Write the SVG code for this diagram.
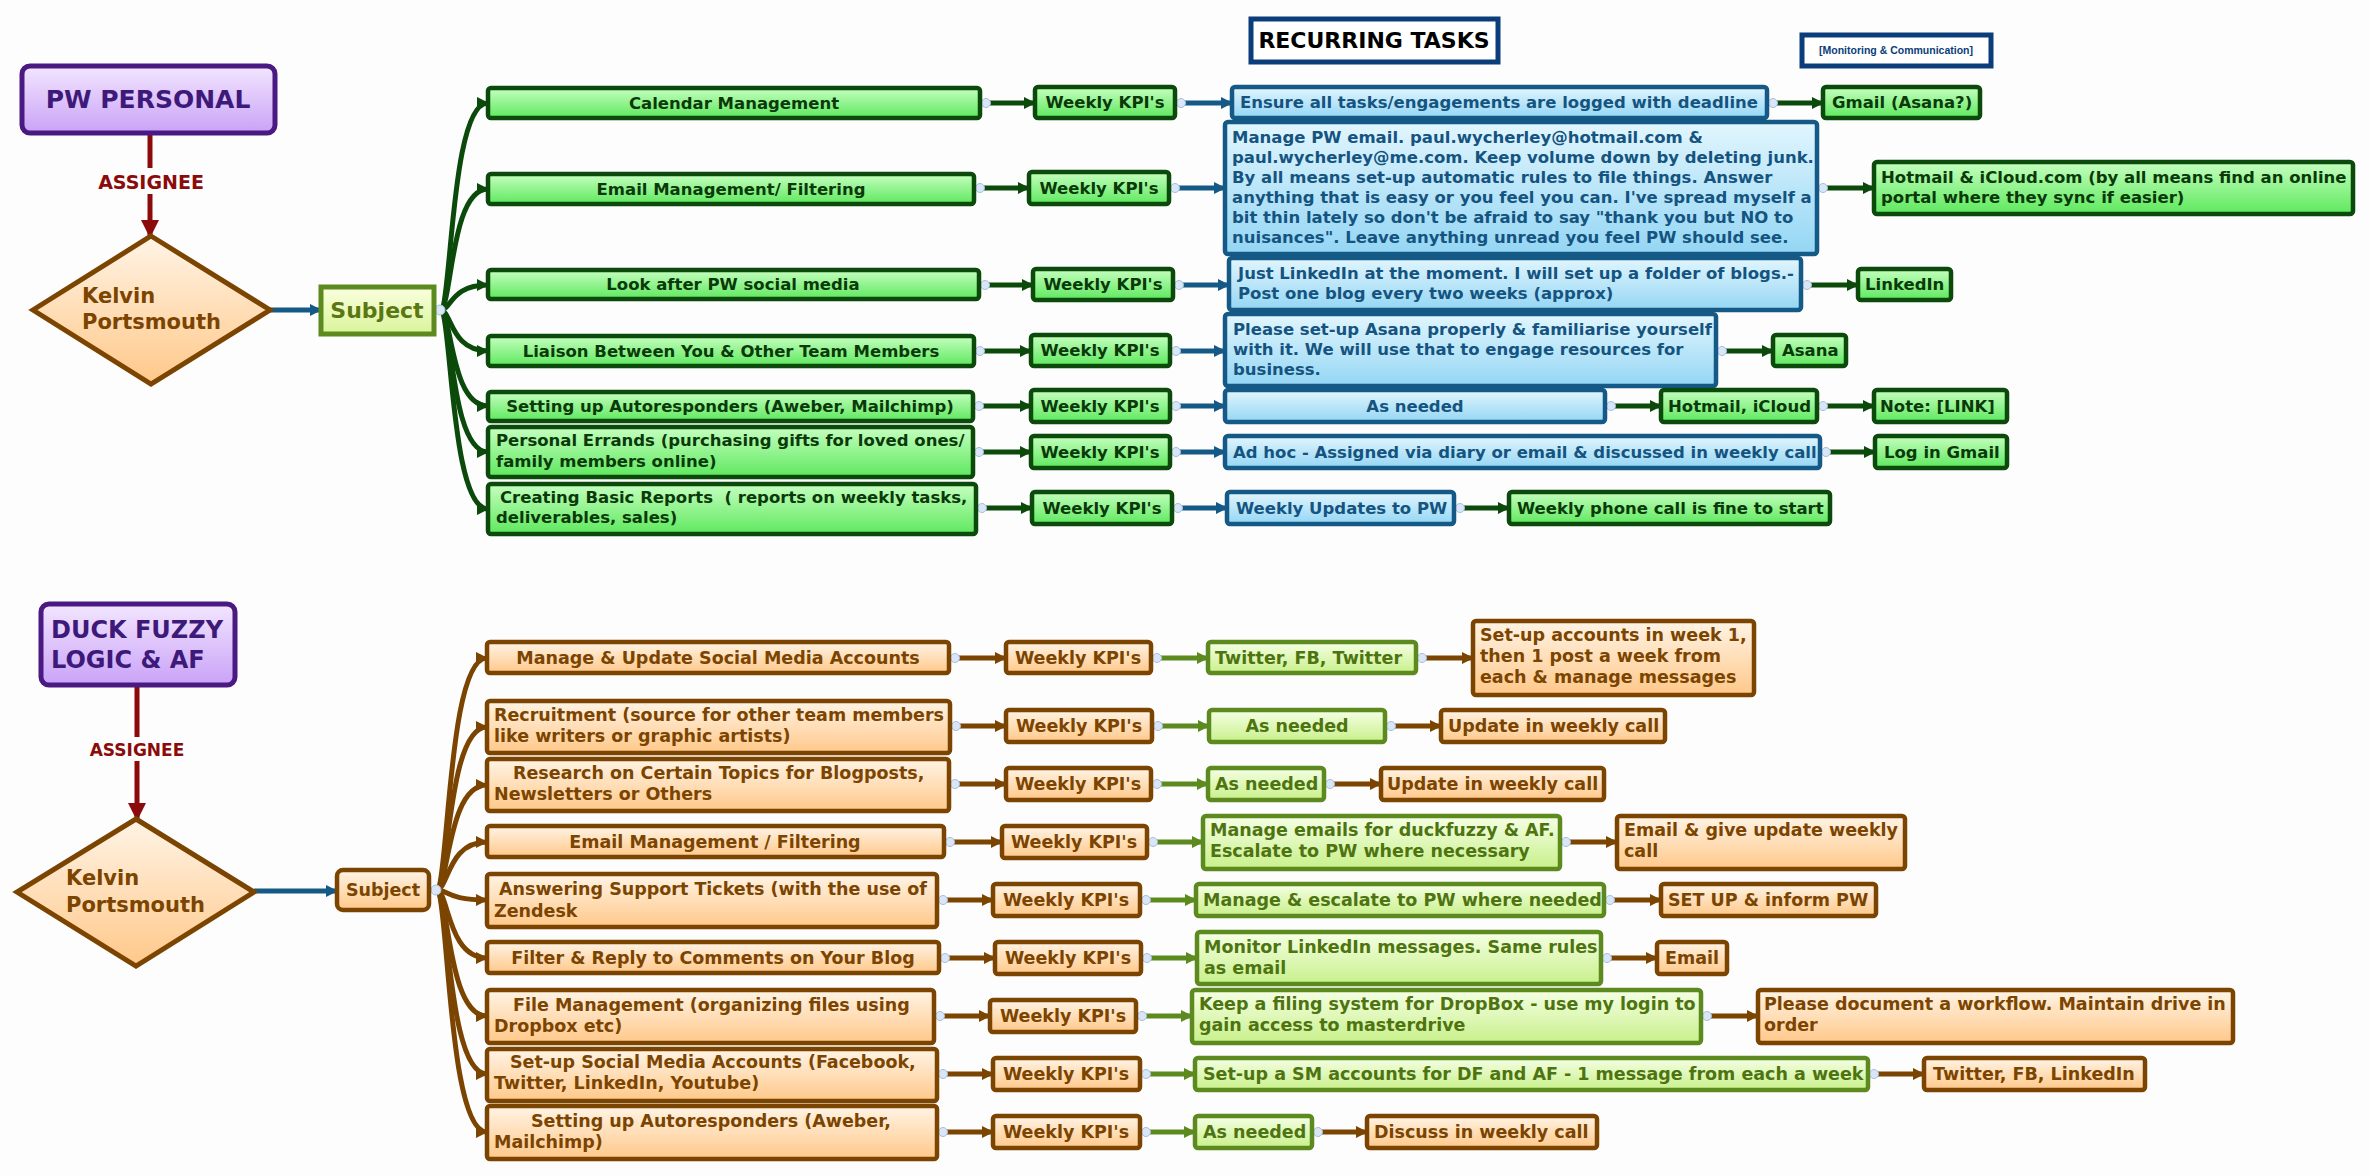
<svg xmlns="http://www.w3.org/2000/svg" width="2370" height="1176" viewBox="0 0 2370 1176">
<defs>
<linearGradient id="gG" x1="0" y1="0" x2="0" y2="1"><stop offset="0" stop-color="#c6ffc0"/><stop offset="1" stop-color="#5ee85e"/></linearGradient>
<linearGradient id="gB" x1="0" y1="0" x2="0" y2="1"><stop offset="0" stop-color="#e2f6fe"/><stop offset="1" stop-color="#94d6f4"/></linearGradient>
<linearGradient id="gP" x1="0" y1="0" x2="0" y2="1"><stop offset="0" stop-color="#fff4e6"/><stop offset="1" stop-color="#ffc889"/></linearGradient>
<linearGradient id="gL" x1="0" y1="0" x2="0" y2="1"><stop offset="0" stop-color="#f6ffe6"/><stop offset="1" stop-color="#c8f08a"/></linearGradient>
<linearGradient id="gV" x1="0" y1="0" x2="0" y2="1"><stop offset="0" stop-color="#f3e6ff"/><stop offset="1" stop-color="#c9a2f7"/></linearGradient>
<linearGradient id="gS" x1="0" y1="0" x2="0" y2="1"><stop offset="0" stop-color="#fbffe0"/><stop offset="1" stop-color="#d9f49a"/></linearGradient>
<marker id="mG" markerWidth="12" markerHeight="12" refX="11" refY="6" orient="auto" markerUnits="userSpaceOnUse"><path d="M0,0 L12,6 L0,12 z" fill="#0b4a0b"/></marker>
<marker id="mB" markerWidth="12" markerHeight="12" refX="11" refY="6" orient="auto" markerUnits="userSpaceOnUse"><path d="M0,0 L12,6 L0,12 z" fill="#155a86"/></marker>
<marker id="mP" markerWidth="12" markerHeight="12" refX="11" refY="6" orient="auto" markerUnits="userSpaceOnUse"><path d="M0,0 L12,6 L0,12 z" fill="#7b4400"/></marker>
<marker id="mL" markerWidth="12" markerHeight="12" refX="11" refY="6" orient="auto" markerUnits="userSpaceOnUse"><path d="M0,0 L12,6 L0,12 z" fill="#5c8a1e"/></marker>
<marker id="mR" markerWidth="18" markerHeight="18" refX="16" refY="9" orient="auto" markerUnits="userSpaceOnUse"><path d="M0,0 L18,9 L0,18 z" fill="#8b0a0a"/></marker>
</defs>
<style>
text{font-family:"DejaVu Sans",Verdana,sans-serif;font-weight:bold}
.t{font-size:16.5px}
.s{font-size:17.5px}
.m{text-anchor:middle}
.g{fill:url(#gG);stroke:#0b4a0b;stroke-width:4.5}
.b{fill:url(#gB);stroke:#155a86;stroke-width:4.5}
.p{fill:url(#gP);stroke:#7b4400;stroke-width:4.5}
.l{fill:url(#gL);stroke:#5c8a1e;stroke-width:4.5}
.v{fill:url(#gV);stroke:#4a1a82;stroke-width:5}
.tg{fill:#0a3a0a}
.tb{fill:#155480}
.tp{fill:#7b4400}
.tl{fill:#4d7410}
.tv{fill:#3d1a7a}
.cG{fill:none;stroke:#0b4a0b;stroke-width:5;marker-end:url(#mG)}
.cB{fill:none;stroke:#155a86;stroke-width:5;marker-end:url(#mB)}
.cP{fill:none;stroke:#7b4400;stroke-width:5;marker-end:url(#mP)}
.cL{fill:none;stroke:#5c8a1e;stroke-width:5;marker-end:url(#mL)}
.h{fill:#d8e6f8;stroke:#a9bedc;stroke-width:1}
</style>
<rect x="0" y="0" width="2370" height="1176" fill="#fdfdfd"/>

<g id="title">
<rect x="1251" y="19" width="247" height="43" fill="#ffffff" stroke="#0a3d7a" stroke-width="5"/>
<text x="1374" y="48" font-size="22" text-anchor="middle" fill="#000">RECURRING TASKS</text>
</g>
<g id="legend">
<rect x="1802" y="35" width="189" height="31" fill="#ffffff" stroke="#0a3d7a" stroke-width="5"/>
<text x="1896" y="54" font-size="10.5" text-anchor="middle" fill="#0a3d7a" style="font-family:'Liberation Sans',Arial,sans-serif">[Monitoring &amp; Communication]</text>
</g>

<g id="connectors">
<!-- top -->
<line x1="150" y1="133" x2="150" y2="236" stroke="#8b0a0a" stroke-width="5" marker-end="url(#mR)"/>
<path class="cB" d="M270,310 L321,310"/>
<path class="cG" d="M440,310 C452,310 450,103 488,103"/>
<path class="cG" d="M440,310 C452,310 450,189 488,189"/>
<path class="cG" d="M440,310 C452,310 450,285 488,285"/>
<path class="cG" d="M440,310 C452,310 450,351 488,351"/>
<path class="cG" d="M440,310 C452,310 450,406 488,406"/>
<path class="cG" d="M440,310 C452,310 450,452 488,452"/>
<path class="cG" d="M440,310 C452,310 450,509 488,509"/>
<circle class="h" cx="440" cy="310" r="5"/>
<path class="cG" d="M988,103 L1035,103"/><path class="cB" d="M1183,103 L1232,103"/><path class="cG" d="M1775,103 L1823,103"/>
<path class="cG" d="M982,188 L1029,188"/><path class="cB" d="M1177,188 L1225,188"/><path class="cG" d="M1825,188 L1874,188"/>
<path class="cG" d="M987,285 L1033,285"/><path class="cB" d="M1181,285 L1229,285"/><path class="cG" d="M1809,285 L1858,285"/>
<path class="cG" d="M982,351 L1031,351"/><path class="cB" d="M1178,351 L1225,351"/><path class="cG" d="M1724,351 L1773,351"/>
<path class="cG" d="M981,406 L1031,406"/><path class="cB" d="M1178,406 L1225,406"/><path class="cG" d="M1613,406 L1661,406"/><path class="cG" d="M1825,406 L1874,406"/>
<path class="cG" d="M981,452 L1031,452"/><path class="cB" d="M1178,452 L1225,452"/><path class="cG" d="M1828,452 L1875,452"/>
<path class="cG" d="M984,508 L1032,508"/><path class="cB" d="M1180,508 L1227,508"/><path class="cG" d="M1462,508 L1509,508"/>
<circle class="h" cx="986" cy="103" r="4.5"/><circle class="h" cx="1181" cy="103" r="4.5"/><circle class="h" cx="1773" cy="103" r="4.5"/>
<circle class="h" cx="980" cy="188" r="4.5"/><circle class="h" cx="1175" cy="188" r="4.5"/><circle class="h" cx="1823" cy="188" r="4.5"/>
<circle class="h" cx="985" cy="285" r="4.5"/><circle class="h" cx="1179" cy="285" r="4.5"/><circle class="h" cx="1807" cy="285" r="4.5"/>
<circle class="h" cx="980" cy="351" r="4.5"/><circle class="h" cx="1176" cy="351" r="4.5"/><circle class="h" cx="1722" cy="351" r="4.5"/>
<circle class="h" cx="979" cy="406" r="4.5"/><circle class="h" cx="1176" cy="406" r="4.5"/><circle class="h" cx="1611" cy="406" r="4.5"/><circle class="h" cx="1823" cy="406" r="4.5"/>
<circle class="h" cx="979" cy="452" r="4.5"/><circle class="h" cx="1176" cy="452" r="4.5"/><circle class="h" cx="1826" cy="452" r="4.5"/>
<circle class="h" cx="982" cy="508" r="4.5"/><circle class="h" cx="1178" cy="508" r="4.5"/><circle class="h" cx="1460" cy="508" r="4.5"/>
<!-- bottom -->
<line x1="137" y1="685" x2="137" y2="819" stroke="#8b0a0a" stroke-width="5" marker-end="url(#mR)"/>
<path class="cB" d="M254,891 L337,891"/>
<path class="cP" d="M436,890 C449,890 447,658 487,658"/>
<path class="cP" d="M436,890 C449,890 447,727 487,727"/>
<path class="cP" d="M436,890 C449,890 447,785 487,785"/>
<path class="cP" d="M436,890 C449,890 447,842 487,842"/>
<path class="cP" d="M436,890 C449,890 447,900 487,900"/>
<path class="cP" d="M436,890 C449,890 447,958 487,958"/>
<path class="cP" d="M436,890 C449,890 447,1016 487,1016"/>
<path class="cP" d="M436,890 C449,890 447,1074 487,1074"/>
<path class="cP" d="M436,890 C449,890 447,1132 487,1132"/>
<circle class="h" cx="436" cy="890" r="5"/>
<path class="cP" d="M957,658 L1006,658"/><path class="cL" d="M1159,658 L1208,658"/><path class="cP" d="M1424,658 L1473,658"/>
<path class="cP" d="M958,726 L1006,726"/><path class="cL" d="M1160,726 L1209,726"/><path class="cP" d="M1393,726 L1441,726"/>
<path class="cP" d="M957,784 L1006,784"/><path class="cL" d="M1159,784 L1208,784"/><path class="cP" d="M1332,784 L1381,784"/>
<path class="cP" d="M952,842 L1002,842"/><path class="cL" d="M1155,842 L1203,842"/><path class="cP" d="M1568,842 L1617,842"/>
<path class="cP" d="M945,900 L993,900"/><path class="cL" d="M1148,900 L1196,900"/><path class="cP" d="M1612,900 L1661,900"/>
<path class="cP" d="M947,958 L995,958"/><path class="cL" d="M1149,958 L1197,958"/><path class="cP" d="M1609,958 L1657,958"/>
<path class="cP" d="M942,1016 L990,1016"/><path class="cL" d="M1144,1016 L1192,1016"/><path class="cP" d="M1709,1016 L1758,1016"/>
<path class="cP" d="M945,1074 L993,1074"/><path class="cL" d="M1148,1074 L1195,1074"/><path class="cP" d="M1876,1074 L1924,1074"/>
<path class="cP" d="M945,1132 L993,1132"/><path class="cL" d="M1148,1132 L1195,1132"/><path class="cP" d="M1320,1132 L1367,1132"/>
<circle class="h" cx="955" cy="658" r="4.5"/><circle class="h" cx="1157" cy="658" r="4.5"/><circle class="h" cx="1422" cy="658" r="4.5"/>
<circle class="h" cx="956" cy="726" r="4.5"/><circle class="h" cx="1158" cy="726" r="4.5"/><circle class="h" cx="1391" cy="726" r="4.5"/>
<circle class="h" cx="955" cy="784" r="4.5"/><circle class="h" cx="1157" cy="784" r="4.5"/><circle class="h" cx="1330" cy="784" r="4.5"/>
<circle class="h" cx="950" cy="842" r="4.5"/><circle class="h" cx="1153" cy="842" r="4.5"/><circle class="h" cx="1566" cy="842" r="4.5"/>
<circle class="h" cx="943" cy="900" r="4.5"/><circle class="h" cx="1146" cy="900" r="4.5"/><circle class="h" cx="1610" cy="900" r="4.5"/>
<circle class="h" cx="945" cy="958" r="4.5"/><circle class="h" cx="1147" cy="958" r="4.5"/><circle class="h" cx="1607" cy="958" r="4.5"/>
<circle class="h" cx="940" cy="1016" r="4.5"/><circle class="h" cx="1142" cy="1016" r="4.5"/><circle class="h" cx="1707" cy="1016" r="4.5"/>
<circle class="h" cx="943" cy="1074" r="4.5"/><circle class="h" cx="1146" cy="1074" r="4.5"/><circle class="h" cx="1874" cy="1074" r="4.5"/>
<circle class="h" cx="943" cy="1132" r="4.5"/><circle class="h" cx="1146" cy="1132" r="4.5"/><circle class="h" cx="1318" cy="1132" r="4.5"/>
</g>

<!-- TOP SECTION -->
<g id="pw-personal"><rect class="v" x="22" y="66" width="253" height="67" rx="8"/><text x="148" y="108" font-size="25" text-anchor="middle" class="tv">PW PERSONAL</text></g>
<g id="assignee-top"><rect x="94" y="168" width="114" height="26" fill="#fdfdfd"/><text x="151" y="189" font-size="19" text-anchor="middle" fill="#8b0a0a">ASSIGNEE</text></g>
<g id="kelvin-top"><polygon points="151,236 270,310 151,384 33,310" fill="url(#gP)" stroke="#7b4400" stroke-width="5"/><text x="82" y="303" font-size="21" class="tp">Kelvin</text><text x="82" y="329" font-size="21" class="tp">Portsmouth</text></g>
<g id="subject-top"><rect x="321" y="287" width="113" height="47" fill="url(#gS)" stroke="#5c8a1e" stroke-width="5"/><text x="377" y="318" font-size="22" text-anchor="middle" fill="#5a7812">Subject</text></g>

<g id="t1"><rect class="g" x="488" y="88" width="492" height="30" rx="3"/><text class="t m tg" x="734" y="109">Calendar Management</text></g>
<g id="t2"><rect class="g" x="488" y="174" width="486" height="30" rx="3"/><text class="t m tg" x="731" y="195">Email Management/ Filtering</text></g>
<g id="t3"><rect class="g" x="488" y="270" width="491" height="29" rx="3"/><text class="t m tg" x="733" y="290">Look after PW social media</text></g>
<g id="t4"><rect class="g" x="488" y="336" width="486" height="30" rx="3"/><text class="t m tg" x="731" y="357">Liaison Between You &amp; Other Team Members</text></g>
<g id="t5"><rect class="g" x="488" y="392" width="485" height="29" rx="3"/><text class="t m tg" x="730" y="412">Setting up Autoresponders (Aweber, Mailchimp)</text></g>
<g id="t6"><rect class="g" x="488" y="427" width="485" height="50" rx="3"/><text class="t tg" x="496" y="446">Personal Errands (purchasing gifts for loved ones/</text><text class="t tg" x="496" y="467">family members online)</text></g>
<g id="t7"><rect class="g" x="488" y="484" width="488" height="50" rx="3"/><text class="t tg" x="500" y="503" xml:space="preserve">Creating Basic Reports  ( reports on weekly tasks,</text><text class="t tg" x="496" y="523">deliverables, sales)</text></g>

<g id="k1"><rect class="g" x="1035" y="87" width="140" height="31" rx="3"/><text class="t m tg" x="1105" y="108">Weekly KPI's</text></g>
<g id="k2"><rect class="g" x="1029" y="172" width="140" height="32" rx="3"/><text class="t m tg" x="1099" y="194">Weekly KPI's</text></g>
<g id="k3"><rect class="g" x="1033" y="269" width="140" height="31" rx="3"/><text class="t m tg" x="1103" y="290">Weekly KPI's</text></g>
<g id="k4"><rect class="g" x="1031" y="335" width="139" height="31" rx="3"/><text class="t m tg" x="1100" y="356">Weekly KPI's</text></g>
<g id="k5"><rect class="g" x="1031" y="390" width="139" height="32" rx="3"/><text class="t m tg" x="1100" y="412">Weekly KPI's</text></g>
<g id="k6"><rect class="g" x="1031" y="436" width="139" height="32" rx="3"/><text class="t m tg" x="1100" y="458">Weekly KPI's</text></g>
<g id="k7"><rect class="g" x="1032" y="492" width="140" height="32" rx="3"/><text class="t m tg" x="1102" y="514">Weekly KPI's</text></g>

<g id="b1"><rect class="b" x="1232" y="87" width="535" height="31" rx="3"/><text class="t tb" x="1240" y="108">Ensure all tasks/engagements are logged with deadline</text></g>
<g id="b2"><rect class="b" x="1225" y="122" width="592" height="132" rx="3"/><text class="t tb" x="1232" y="143">Manage PW email. paul.wycherley@hotmail.com &amp;<tspan x="1232" dy="20">paul.wycherley@me.com. Keep volume down by deleting junk.</tspan><tspan x="1232" dy="20">By all means set-up automatic rules to file things. Answer</tspan><tspan x="1232" dy="20">anything that is easy or you feel you can. I've spread myself a</tspan><tspan x="1232" dy="20">bit thin lately so don't be afraid to say "thank you but NO to</tspan><tspan x="1232" dy="20">nuisances". Leave anything unread you feel PW should see.</tspan></text></g>
<g id="b3"><rect class="b" x="1229" y="258" width="572" height="52" rx="3"/><text class="t tb" x="1238" y="279">Just LinkedIn at the moment. I will set up a folder of blogs.-<tspan x="1238" dy="20">Post one blog every two weeks (approx)</tspan></text></g>
<g id="b4"><rect class="b" x="1225" y="314" width="491" height="72" rx="3"/><text class="t tb" x="1233" y="335">Please set-up Asana properly &amp; familiarise yourself<tspan x="1233" dy="20">with it. We will use that to engage resources for</tspan><tspan x="1233" dy="20">business.</tspan></text></g>
<g id="b5"><rect class="b" x="1225" y="390" width="380" height="32" rx="3"/><text class="t m tb" x="1415" y="412">As needed</text></g>
<g id="b6"><rect class="b" x="1225" y="436" width="595" height="32" rx="3"/><text class="t tb" x="1233" y="458">Ad hoc - Assigned via diary or email &amp; discussed in weekly call</text></g>
<g id="b7"><rect class="b" x="1227" y="492" width="227" height="32" rx="3"/><text class="t tb" x="1236" y="514">Weekly Updates to PW</text></g>

<g id="g1"><rect class="g" x="1823" y="87" width="157" height="31" rx="3"/><text class="t tg" x="1832" y="108">Gmail (Asana?)</text></g>
<g id="g2"><rect class="g" x="1874" y="162" width="479" height="52" rx="3"/><text class="t tg" x="1881" y="183">Hotmail &amp; iCloud.com (by all means find an online<tspan x="1881" dy="20">portal where they sync if easier)</tspan></text></g>
<g id="g3"><rect class="g" x="1858" y="269" width="93" height="31" rx="3"/><text class="t tg" x="1865" y="290">LinkedIn</text></g>
<g id="g4"><rect class="g" x="1773" y="335" width="73" height="31" rx="3"/><text class="t tg" x="1782" y="356">Asana</text></g>
<g id="g5a"><rect class="g" x="1661" y="390" width="156" height="32" rx="3"/><text class="t tg" x="1668" y="412">Hotmail, iCloud</text></g>
<g id="g5b"><rect class="g" x="1874" y="390" width="133" height="32" rx="3"/><text class="t tg" x="1880" y="412">Note: [LINK]</text></g>
<g id="g6"><rect class="g" x="1875" y="436" width="132" height="32" rx="3"/><text class="t tg" x="1884" y="458">Log in Gmail</text></g>
<g id="g7"><rect class="g" x="1509" y="492" width="321" height="32" rx="3"/><text class="t tg" x="1517" y="514">Weekly phone call is fine to start</text></g>

<!-- BOTTOM SECTION -->
<g id="duck-fuzzy"><rect class="v" x="41" y="604" width="194" height="81" rx="8"/><text x="51" y="638" font-size="24" class="tv">DUCK FUZZY</text><text x="51" y="668" font-size="24" class="tv">LOGIC &amp; AF</text></g>
<g id="assignee-bottom"><rect x="86" y="737" width="102" height="24" fill="#fdfdfd"/><text x="137" y="756" font-size="17" text-anchor="middle" fill="#8b0a0a">ASSIGNEE</text></g>
<g id="kelvin-bottom"><polygon points="136,819 254,892 136,966 17,892" fill="url(#gP)" stroke="#7b4400" stroke-width="5"/><text x="66" y="885" font-size="21" class="tp">Kelvin</text><text x="66" y="912" font-size="21" class="tp">Portsmouth</text></g>
<g id="subject-bottom"><rect class="p" x="337" y="870" width="92" height="40" rx="6"/><text x="383" y="896" font-size="17.5" text-anchor="middle" class="tp">Subject</text></g>

<g id="bt1"><rect class="p" x="487" y="642" width="462" height="31" rx="3"/><text class="s m tp" x="718" y="664">Manage &amp; Update Social Media Accounts</text></g>
<g id="bt2"><rect class="p" x="487" y="701" width="463" height="52" rx="3"/><text class="s tp" x="494" y="721">Recruitment (source for other team members</text><text class="s tp" x="494" y="742">like writers or graphic artists)</text></g>
<g id="bt3"><rect class="p" x="487" y="759" width="462" height="52" rx="3"/><text class="s tp" x="513" y="779">Research on Certain Topics for Blogposts,</text><text class="s tp" x="494" y="800">Newsletters or Others</text></g>
<g id="bt4"><rect class="p" x="487" y="826" width="457" height="31" rx="3"/><text class="s m tp" x="715" y="848">Email Management / Filtering</text></g>
<g id="bt5"><rect class="p" x="487" y="874" width="450" height="53" rx="3"/><text class="s tp" x="499" y="895">Answering Support Tickets (with the use of</text><text class="s tp" x="494" y="917">Zendesk</text></g>
<g id="bt6"><rect class="p" x="487" y="942" width="452" height="31" rx="3"/><text class="s m tp" x="713" y="964">Filter &amp; Reply to Comments on Your Blog</text></g>
<g id="bt7"><rect class="p" x="487" y="990" width="447" height="53" rx="3"/><text class="s tp" x="513" y="1011">File Management (organizing files using</text><text class="s tp" x="494" y="1032">Dropbox etc)</text></g>
<g id="bt8"><rect class="p" x="487" y="1049" width="450" height="52" rx="3"/><text class="s tp" x="510" y="1068">Set-up Social Media Accounts (Facebook,</text><text class="s tp" x="494" y="1089">Twitter, LinkedIn, Youtube)</text></g>
<g id="bt9"><rect class="p" x="487" y="1106" width="450" height="53" rx="3"/><text class="s tp" x="531" y="1127">Setting up Autoresponders (Aweber,</text><text class="s tp" x="494" y="1148">Mailchimp)</text></g>

<g id="bk1"><rect class="p" x="1006" y="642" width="145" height="31" rx="3"/><text class="s m tp" x="1078" y="664">Weekly KPI's</text></g>
<g id="bk2"><rect class="p" x="1006" y="710" width="146" height="32" rx="3"/><text class="s m tp" x="1079" y="732">Weekly KPI's</text></g>
<g id="bk3"><rect class="p" x="1006" y="768" width="145" height="32" rx="3"/><text class="s m tp" x="1078" y="790">Weekly KPI's</text></g>
<g id="bk4"><rect class="p" x="1002" y="826" width="145" height="32" rx="3"/><text class="s m tp" x="1074" y="848">Weekly KPI's</text></g>
<g id="bk5"><rect class="p" x="993" y="884" width="147" height="32" rx="3"/><text class="s m tp" x="1066" y="906">Weekly KPI's</text></g>
<g id="bk6"><rect class="p" x="995" y="942" width="146" height="32" rx="3"/><text class="s m tp" x="1068" y="964">Weekly KPI's</text></g>
<g id="bk7"><rect class="p" x="990" y="1000" width="146" height="32" rx="3"/><text class="s m tp" x="1063" y="1022">Weekly KPI's</text></g>
<g id="bk8"><rect class="p" x="993" y="1058" width="147" height="32" rx="3"/><text class="s m tp" x="1066" y="1080">Weekly KPI's</text></g>
<g id="bk9"><rect class="p" x="993" y="1116" width="147" height="32" rx="3"/><text class="s m tp" x="1066" y="1138">Weekly KPI's</text></g>

<g id="l1"><rect class="l" x="1208" y="642" width="208" height="31" rx="3"/><text class="s tl" x="1215" y="664">Twitter, FB, Twitter</text></g>
<g id="l2"><rect class="l" x="1209" y="710" width="176" height="32" rx="3"/><text class="s m tl" x="1297" y="732">As needed</text></g>
<g id="l3"><rect class="l" x="1208" y="768" width="116" height="32" rx="3"/><text class="s tl" x="1215" y="790">As needed</text></g>
<g id="l4"><rect class="l" x="1203" y="816" width="357" height="53" rx="3"/><text class="s tl" x="1210" y="836">Manage emails for duckfuzzy &amp; AF.</text><text class="s tl" x="1210" y="857">Escalate to PW where necessary</text></g>
<g id="l5"><rect class="l" x="1196" y="884" width="408" height="32" rx="3"/><text class="s tl" x="1203" y="906">Manage &amp; escalate to PW where needed</text></g>
<g id="l6"><rect class="l" x="1197" y="932" width="404" height="52" rx="3"/><text class="s tl" x="1204" y="953">Monitor LinkedIn messages. Same rules</text><text class="s tl" x="1204" y="974">as email</text></g>
<g id="l7"><rect class="l" x="1192" y="990" width="509" height="53" rx="3"/><text class="s tl" x="1199" y="1010">Keep a filing system for DropBox - use my login to</text><text class="s tl" x="1199" y="1031">gain access to masterdrive</text></g>
<g id="l8"><rect class="l" x="1195" y="1058" width="673" height="32" rx="3"/><text class="s tl" x="1203" y="1080">Set-up a SM accounts for DF and AF - 1 message from each a week</text></g>
<g id="l9"><rect class="l" x="1195" y="1116" width="117" height="32" rx="3"/><text class="s tl" x="1203" y="1138">As needed</text></g>

<g id="p1"><rect class="p" x="1473" y="621" width="281" height="74" rx="3"/><text class="s tp" x="1480" y="641">Set-up accounts in week 1,</text><text class="s tp" x="1480" y="662">then 1 post a week from</text><text class="s tp" x="1480" y="683">each &amp; manage messages</text></g>
<g id="p2"><rect class="p" x="1441" y="710" width="224" height="32" rx="3"/><text class="s tp" x="1448" y="732">Update in weekly call</text></g>
<g id="p3"><rect class="p" x="1381" y="768" width="223" height="32" rx="3"/><text class="s tp" x="1387" y="790">Update in weekly call</text></g>
<g id="p4"><rect class="p" x="1617" y="816" width="288" height="53" rx="3"/><text class="s tp" x="1624" y="836">Email &amp; give update weekly</text><text class="s tp" x="1624" y="857">call</text></g>
<g id="p5"><rect class="p" x="1661" y="884" width="215" height="32" rx="3"/><text class="s tp" x="1668" y="906">SET UP &amp; inform PW</text></g>
<g id="p6"><rect class="p" x="1657" y="942" width="70" height="32" rx="3"/><text class="s tp" x="1665" y="964">Email</text></g>
<g id="p7"><rect class="p" x="1758" y="990" width="475" height="53" rx="3"/><text class="s tp" x="1764" y="1010">Please document a workflow. Maintain drive in</text><text class="s tp" x="1764" y="1031">order</text></g>
<g id="p8"><rect class="p" x="1924" y="1058" width="221" height="32" rx="3"/><text class="s tp" x="1933" y="1080">Twitter, FB, LinkedIn</text></g>
<g id="p9"><rect class="p" x="1367" y="1116" width="230" height="32" rx="3"/><text class="s tp" x="1374" y="1138">Discuss in weekly call</text></g>
</svg>
